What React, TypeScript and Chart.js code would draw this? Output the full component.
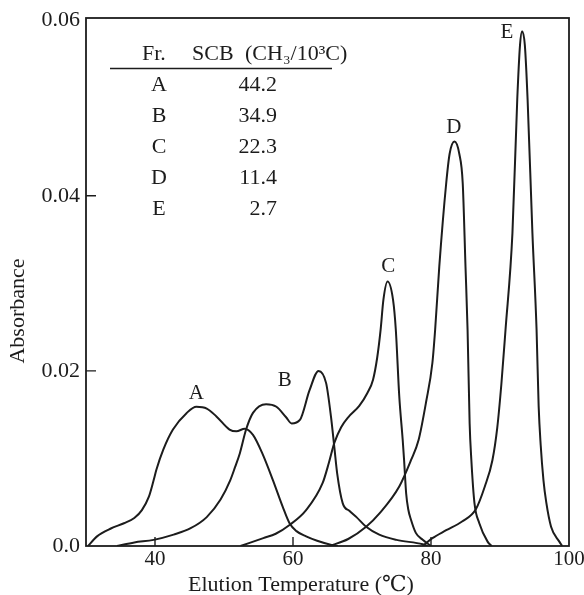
import React, { useEffect, useRef } from 'react';
import { Chart, registerables } from 'chart.js';

Chart.register(...registerables);

// ---- axis ticks ----
const xTicks = [40, 60, 80, 100];
const yTicks = [0, 0.02, 0.04, 0.06];

// ---- elution curves (temperature °C, absorbance) ----
const aTemp = [30.3, 31.6, 33.6, 35.5, 37, 38.1, 39.1, 39.8, 40.2, 41.2, 42.6, 44.6, 46, 47.5, 48.9, 50.8, 51.8, 53, 54.2, 55.6, 57.1, 58.5, 59.5, 60.5, 61.9, 63.5, 65.7, 66.5];
const aAbs = [0, 0.0011, 0.002, 0.0026, 0.0032, 0.0041, 0.0056, 0.0075, 0.0087, 0.011, 0.0133, 0.0152, 0.0159, 0.0157, 0.0148, 0.0133, 0.0131, 0.0134, 0.0127, 0.0105, 0.0075, 0.0045, 0.0026, 0.0017, 0.0011, 0.0006, 0.0001, 0];

const bTemp = [34.5, 37, 39.8, 42.7, 45.1, 47.5, 49.5, 50.9, 51.6, 52.3, 53.2, 54.2, 56.1, 57.6, 59, 59.8, 61, 62.4, 63.7, 64.8, 65.5, 66, 66.4, 67.2, 68.2, 69.2, 70.6, 72.5, 75, 78.8, 79.5];
const bAbs = [0, 0.0004, 0.0007, 0.0013, 0.002, 0.0033, 0.0053, 0.0075, 0.009, 0.0106, 0.0133, 0.0152, 0.0162, 0.0159, 0.0147, 0.014, 0.0144, 0.0178, 0.02, 0.0186, 0.0148, 0.0112, 0.0083, 0.0049, 0.004, 0.0033, 0.0022, 0.0013, 0.0007, 0.0002, 0];

const cTemp = [52.4, 55.7, 57.5, 59.5, 61.9, 64.3, 65.2, 66, 67, 68, 69.6, 70.8, 71.6, 72.2, 72.7, 73.1, 73.7, 74.5, 74.9, 75.4, 75.9, 76.1, 76.4, 76.7, 77.1, 77.8, 78.8, 80];
const cAbs = [0, 0.0009, 0.0014, 0.0024, 0.0041, 0.0072, 0.0095, 0.0118, 0.0136, 0.0147, 0.016, 0.0175, 0.019, 0.0215, 0.0247, 0.0281, 0.0302, 0.0281, 0.0247, 0.0171, 0.0121, 0.0098, 0.006, 0.0042, 0.003, 0.0015, 0.0007, 0];

const dTemp = [65.3, 68, 70.6, 72.5, 75.4, 77.1, 78.2, 79.3, 80.2, 80.6, 81.2, 82.2, 82.7, 83.4, 84.1, 84.6, 85, 85.3, 85.6, 85.85, 86.3, 87, 88.2, 88.8];
const dAbs = [0, 0.0008, 0.0022, 0.0037, 0.0068, 0.0098, 0.0121, 0.0165, 0.0209, 0.0247, 0.0319, 0.0414, 0.0448, 0.0462, 0.0448, 0.0414, 0.0319, 0.0247, 0.014, 0.0098, 0.0049, 0.0026, 0.0005, 0];

const eTemp = [78.8, 80.2, 82.2, 84.5, 86.5, 87.8, 88.9, 89.6, 90.2, 90.8, 91.8, 92.5, 92.9, 93.2, 93.6, 94, 94.7, 95.3, 95.6, 95.9, 96.3, 96.7, 97.4, 98.6, 99];
const eAbs = [0, 0.0009, 0.0018, 0.0028, 0.0042, 0.0068, 0.0098, 0.0135, 0.0185, 0.0247, 0.0357, 0.051, 0.0572, 0.0588, 0.0572, 0.051, 0.0357, 0.0247, 0.016, 0.0115, 0.0075, 0.005, 0.0022, 0.0005, 0];

// ---- fractions table & peak labels ----
const fractions = ['A', 'B', 'C', 'D', 'E'];
const scbValues = [44.2, 34.9, 22.3, 11.4, 2.7];
const peakLabelTemp = [46.0, 58.8, 73.8, 83.3, 91.0];
const peakLabelAbs = [0.0174, 0.0189, 0.0319, 0.0478, 0.0586];

const curves = [
  [aTemp, aAbs],
  [bTemp, bAbs],
  [cTemp, cAbs],
  [dTemp, dAbs],
  [eTemp, eAbs],
];

const SERIF = "'Liberation Serif', 'DejaVu Serif', 'Noto Sans CJK JP', serif";
const INK = '#1c1c1c';

const decorPlugin = {
  id: 'decor',
  afterDraw(chart: any) {
    const { ctx, chartArea } = chart;
    const { left, right, top, bottom } = chartArea;
    const xs = chart.scales.x;
    const ys = chart.scales.y;
    ctx.save();
    ctx.strokeStyle = INK;
    ctx.fillStyle = INK;
    // frame
    ctx.lineWidth = 1.8;
    ctx.strokeRect(left, top, right - left, bottom - top);
    // inward tick marks
    ctx.lineWidth = 1.4;
    ctx.beginPath();
    for (const v of xTicks) {
      const px = xs.getPixelForValue(v);
      if (px > left + 3 && px < right - 3) {
        ctx.moveTo(px, bottom);
        ctx.lineTo(px, bottom - 9);
      }
    }
    for (const v of yTicks) {
      const py = ys.getPixelForValue(v);
      if (py > top + 3 && py < bottom - 3) {
        ctx.moveTo(left, py);
        ctx.lineTo(left + 10, py);
      }
    }
    ctx.stroke();

    // peak labels
    ctx.font = `21px ${SERIF}`;
    ctx.textAlign = 'center';
    ctx.textBaseline = 'middle';
    fractions.forEach((f, i) => {
      ctx.fillText(f, xs.getPixelForValue(peakLabelTemp[i]), ys.getPixelForValue(peakLabelAbs[i]));
    });

    // table
    ctx.font = `22px ${SERIF}`;
    ctx.textBaseline = 'alphabetic';
    ctx.textAlign = 'left';
    ctx.fillText('Fr.', left + 56, top + 42);
    ctx.fillText('SCB', left + 106, top + 42);
    ctx.fillText('(CH₃/10³C)', left + 159, top + 42);
    ctx.lineWidth = 1.5;
    ctx.beginPath();
    ctx.moveTo(left + 24, top + 50.5);
    ctx.lineTo(left + 246, top + 50.5);
    ctx.stroke();
    fractions.forEach((f, i) => {
      const by = top + 72.5 + i * 31.1;
      ctx.textAlign = 'center';
      ctx.fillText(f, left + 73, by);
      ctx.textAlign = 'right';
      ctx.fillText(scbValues[i].toFixed(1), left + 191, by);
    });

    // axis titles
    ctx.font = `22px ${SERIF}`;
    ctx.textAlign = 'center';
    ctx.textBaseline = 'alphabetic';
    ctx.fillText('Elution Temperature (℃)', 301, bottom + 45);
    ctx.save();
    ctx.translate(18.5, 311);
    ctx.rotate(-Math.PI / 2);
    ctx.textBaseline = 'middle';
    ctx.fillText('Absorbance', 0, 0);
    ctx.restore();

    ctx.restore();
  },
};

export default function App() {
  const ref = useRef<HTMLCanvasElement | null>(null);
  useEffect(() => {
    if (!ref.current) return;
    const chart = new Chart(ref.current, {
      type: 'scatter',
      data: {
        datasets: curves.map(([t, a], i) => ({
          label: fractions[i],
          data: t.map((v, j) => ({ x: v, y: a[j] })),
          showLine: true,
          borderColor: INK,
          borderWidth: 2,
          pointRadius: 0,
          pointHoverRadius: 0,
          cubicInterpolationMode: 'monotone' as const,
          fill: false,
        })),
      },
      options: {
        animation: false,
        responsive: false,
        events: [],
        layout: { padding: { left: 0, right: 15, top: 18, bottom: 0 } },
        plugins: {
          legend: { display: false },
          tooltip: { enabled: false },
        },
        scales: {
          x: {
            type: 'linear',
            min: 30,
            max: 100,
            afterBuildTicks: (s: any) => {
              s.ticks = xTicks.map((v) => ({ value: v }));
            },
            afterFit: (s: any) => {
              s.height = 49;
              s.paddingRight = 0;
              s.paddingLeft = 0;
            },
            grid: { display: false, drawTicks: false },
            border: { display: false },
            ticks: {
              padding: 1,
              maxRotation: 0,
              color: INK,
              font: { family: SERIF, size: 21 },
              callback: (v: any) => String(v),
            },
          },
          y: {
            type: 'linear',
            min: 0,
            max: 0.0603,
            afterBuildTicks: (s: any) => {
              s.ticks = yTicks.map((v) => ({ value: v }));
            },
            afterFit: (s: any) => {
              s.width = 86;
              s.paddingTop = 0;
              s.paddingBottom = 0;
            },
            grid: { display: false, drawTicks: false },
            border: { display: false },
            ticks: {
              padding: 6,
              color: INK,
              font: { family: SERIF, size: 22 },
              callback: (v: any) => (Number(v) === 0 ? '0.0' : Number(v).toFixed(2)),
            },
          },
        },
      },
      plugins: [decorPlugin],
    });
    return () => chart.destroy();
  }, []);
  return (
    <div style={{ position: 'absolute', left: 0, top: 0, width: 584, height: 595, background: '#fff' }}>
      <canvas ref={ref} width={584} height={595} style={{ width: 584, height: 595, display: 'block' }} />
    </div>
  );
}
